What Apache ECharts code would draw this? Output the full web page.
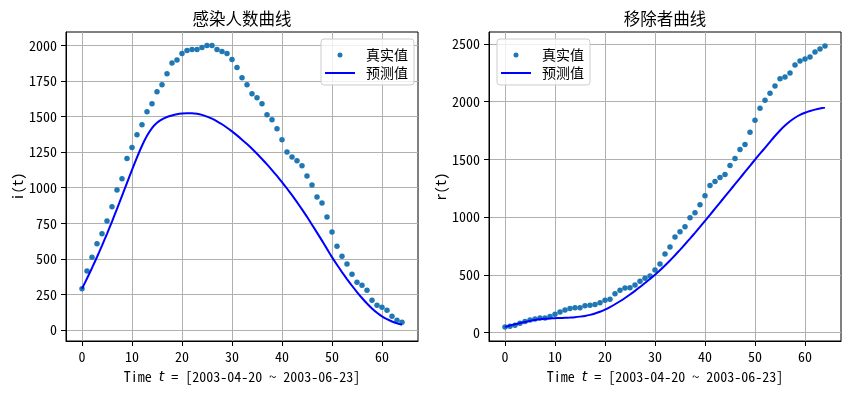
<!DOCTYPE html>
<html><head><meta charset="utf-8">
<script src="https://cdn.jsdelivr.net/npm/echarts@6/dist/echarts.min.js"></script>
<style>html,body{margin:0;padding:0;background:#fff}#c{width:851px;height:395px}</style>
</head><body><div id="c"></div>
<script>
const days = [0,1,2,3,4,5,6,7,8,9,10,11,12,13,14,15,16,17,18,19,20,21,22,23,24,25,26,27,28,29,30,31,32,33,34,35,36,37,38,39,40,41,42,43,44,45,46,47,48,49,50,51,52,53,54,55,56,57,58,59,60,61,62,63,64];
const infectedReal = [290,415,512,606,676,765,866,983,1063,1204,1282,1371,1442,1533,1589,1674,1723,1800,1876,1897,1942,1963,1970,1970,1984,1998,1998,1970,1956,1942,1900,1843,1772,1723,1660,1632,1589,1512,1477,1413,1336,1251,1216,1188,1153,1082,1018,934,892,794,688,589,519,463,392,336,315,280,209,174,160,139,96,68,54];
const infectedPred = [290,362,436,513,593,676,762,851,942,1033,1124,1212,1294,1364,1418,1455,1479,1496,1507,1515,1520,1523,1523,1519,1511,1499,1484,1466,1445,1421,1395,1367,1337,1306,1273,1238,1201,1163,1123,1082,1039,994,947,898,847,795,740,684,628,570,512,458,407,358,311,267,225,186,151,121,96,76,60,47,37];
const removedReal = [50,55,64,81,96,110,119,128,128,139,160,180,197,209,215,215,232,238,244,258,281,290,336,368,386,389,412,446,470,490,542,595,681,742,829,873,916,994,1038,1108,1186,1273,1308,1342,1368,1447,1508,1586,1629,1734,1838,1942,2012,2073,2134,2197,2212,2247,2316,2351,2368,2386,2429,2455,2481];
const removedPred = [50,62,73,83,93,102,110,116,120,123,125,127,129,131,134,139,145,154,166,181,200,222,246,272,300,330,362,395,430,465,502,541,582,625,670,717,765,814,864,915,967,1020,1073,1126,1179,1232,1285,1338,1391,1444,1497,1549,1600,1651,1702,1750,1793,1830,1860,1884,1903,1918,1930,1940,1948];
const xTicks = [0,10,20,30,40,50,60];
const yTicksLeft = [0,250,500,750,1000,1250,1500,1750,2000];
const yTicksRight = [0,500,1000,1500,2000,2500];
const titles = ['感染人数曲线','移除者曲线'];
const yNames = ['i(t)','r(t)'];
const xName = 'Time {i|t} = [2003-04-20 ~ 2003-06-23]';
const legendNames = ['真实值','预测值'];

const FONT = "'Noto Sans Mono CJK SC','Noto Sans CJK SC',monospace";
const pairs = (xs, ys) => xs.map((x, i) => [x, ys[i]]);
const plain = v => String(v);

function xAxis(gi) {
  return {
    type:'value', gridIndex:gi, min:-3.2, max:67.2,
    axisLine:{show:true, onZero:false, lineStyle:{color:'#000', width:1}},
    axisTick:{show:true, customValues:xTicks, length:5, lineStyle:{color:'#000', width:1}},
    axisLabel:{customValues:xTicks, formatter:plain, margin:9, color:'#000', fontSize:14, fontFamily:FONT},
    splitLine:{show:true, lineStyle:{color:'#b0b0b0', width:1}},
    name:xName, nameLocation:'middle', nameGap:29,
    nameTextStyle:{color:'#000', fontSize:14, fontFamily:FONT,
      rich:{i:{fontStyle:'italic', fontFamily:'DejaVu Sans', fontSize:14, color:'#000'}}}
  };
}
function yAxis(gi, min, max, ticks, name, gap) {
  return {
    type:'value', gridIndex:gi, min:min, max:max,
    axisLine:{show:true, onZero:false, lineStyle:{color:'#000', width:1}},
    axisTick:{show:true, customValues:ticks, length:5, lineStyle:{color:'#000', width:1}},
    axisLabel:{customValues:ticks, formatter:plain, margin:9, color:'#000', fontSize:14, fontFamily:FONT},
    splitLine:{show:true, lineStyle:{color:'#b0b0b0', width:1}},
    name:name, nameLocation:'middle', nameGap:gap, nameRotate:90,
    nameTextStyle:{color:'#000', fontSize:14, fontFamily:FONT}
  };
}
function legend(left) {
  return {
    data:[{name:legendNames[0]}, {name:legendNames[1], itemStyle:{color:'rgba(0,0,0,0)', borderWidth:0, opacity:0}}],
    orient:'vertical', left:left, top:39,
    itemWidth:30, itemHeight:5, itemGap:4,
    padding:[9,6,5,3],
    backgroundColor:'rgba(255,255,255,0.8)', borderColor:'#cccccc', borderWidth:1, borderRadius:3,
    textStyle:{color:'#000', fontSize:14, fontFamily:FONT, padding:[0,0,0,6]},
    selectedMode:false
  };
}

const chart = echarts.init(document.getElementById('c'), null, {renderer:'canvas'});
chart.setOption({
  animation:false,
  textStyle:{fontFamily:FONT},
  grid:[
    {left:66, top:32, width:352, height:309, show:true, borderColor:'#000', borderWidth:1, backgroundColor:'transparent'},
    {left:489, top:32, width:352, height:309, show:true, borderColor:'#000', borderWidth:1, backgroundColor:'transparent'}
  ],
  xAxis:[xAxis(0), xAxis(1)],
  yAxis:[yAxis(0,-77,2093,yTicksLeft,yNames[0],34), yAxis(1,-72,2602,yTicksRight,yNames[1],35)],
  legend:[legend(321), legend(497)],
  graphic:[
    {type:'text', x:242, y:19, style:{text:titles[0], textAlign:'center', textVerticalAlign:'middle', fontSize:16.5, fontFamily:FONT, fill:'#000'}},
    {type:'text', x:665, y:19, style:{text:titles[1], textAlign:'center', textVerticalAlign:'middle', fontSize:16.5, fontFamily:FONT, fill:'#000'}}
  ],
  series:[
    {name:legendNames[0], type:'scatter', xAxisIndex:0, yAxisIndex:0, data:pairs(days, infectedReal), symbolSize:5.5, itemStyle:{color:'#1f77b4', opacity:1}, z:2},
    {name:legendNames[1], type:'line', xAxisIndex:0, yAxisIndex:0, data:pairs(days, infectedPred), showSymbol:false, symbol:'none', smooth:0.2, lineStyle:{color:'#0000ff', width:2}, itemStyle:{color:'#0000ff'}, z:3},
    {name:legendNames[0], type:'scatter', xAxisIndex:1, yAxisIndex:1, data:pairs(days, removedReal), symbolSize:5.5, itemStyle:{color:'#1f77b4', opacity:1}, z:2},
    {name:legendNames[1], type:'line', xAxisIndex:1, yAxisIndex:1, data:pairs(days, removedPred), showSymbol:false, symbol:'none', smooth:0.2, lineStyle:{color:'#0000ff', width:2}, itemStyle:{color:'#0000ff'}, z:3}
  ]
});
</script></body></html>
